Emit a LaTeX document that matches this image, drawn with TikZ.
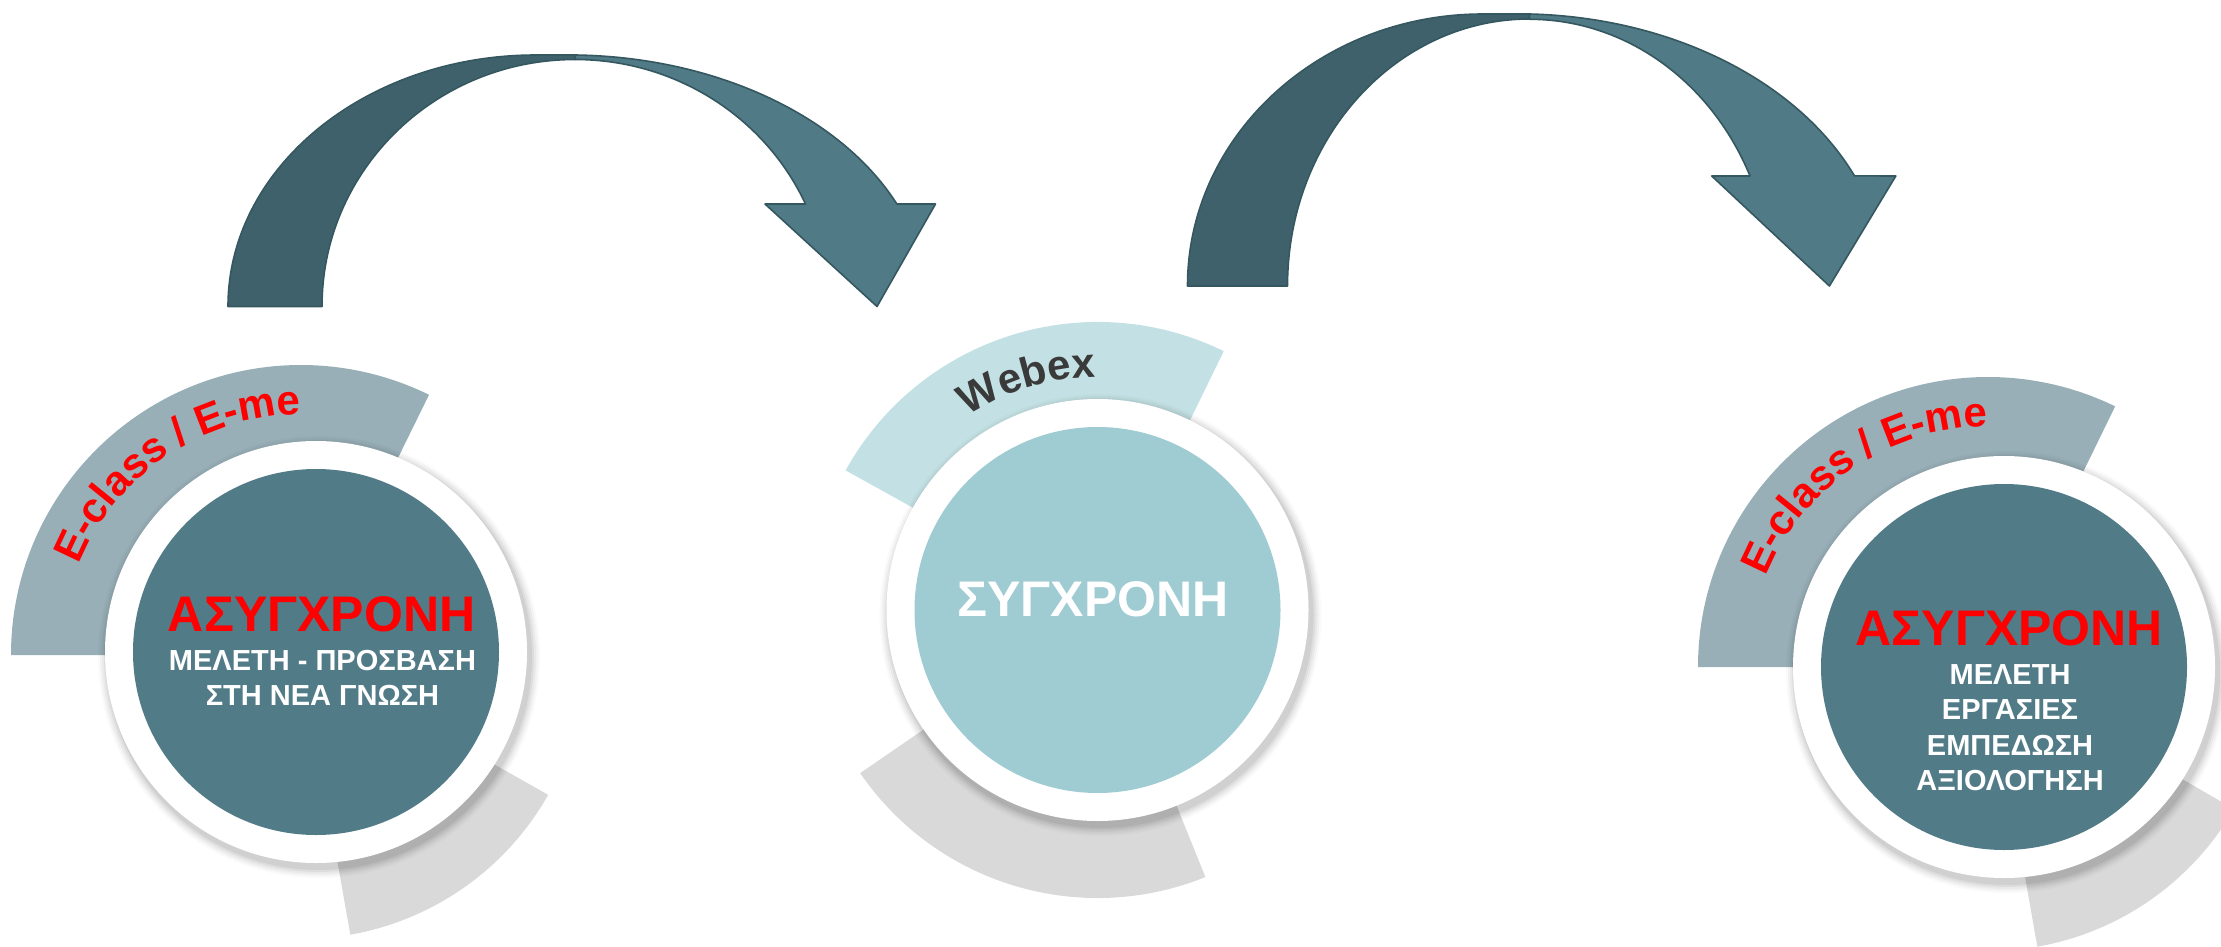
\documentclass[tikz,border=0pt]{standalone}
\usepackage{fontspec}
\setmainfont{Liberation Sans}
\usetikzlibrary{decorations.text}
\definecolor{arrdark}{HTML}{3E616B}
\definecolor{arrlight}{HTML}{517A87}
\definecolor{arrline}{HTML}{35575F}
\definecolor{tealc}{HTML}{527B88}
\definecolor{aquac}{HTML}{9FCBD2}
\definecolor{bandgrey}{HTML}{98AFB7}
\definecolor{bandaqua}{HTML}{C3E1E4}
\definecolor{bandlight}{HTML}{D9D9D9}
\definecolor{labelgrey}{HTML}{3A3A3A}
\newcommand{\bandsector}[6]{%
  \fill[#6] ([shift={(#4:#2)}]#1) arc[start angle=#4,end angle=#5,radius=#2]
    -- ([shift={(#5:#3)}]#1) arc[start angle=#5,end angle=#4,radius=#3] -- cycle;}
\newcommand{\whitedisc}[2]{%
  \foreach \rr/\op in {221/0.02,219/0.03,217/0.04,215/0.05,213/0.06}{%
    \fill[black,opacity=\op] ([shift={(3,5)}]#1,#2) circle[radius=\rr];}
  \fill[white] (#1,#2) circle[radius=211];}
\newcommand{\arcfont}{\bfseries\fontsize{21}{21}\selectfont}
\begin{document}
\begin{tikzpicture}[x=0.5pt,y=-0.5pt,
  arrowdk/.style={fill=arrdark,draw=arrline,line width=0.8pt,line join=round},
  arrowlt/.style={fill=arrlight,draw=arrline,line width=0.8pt,line join=round},
  bigdisc/.style={circle,minimum size=183pt,inner sep=0pt},
  redtitle/.style={text=red,font=\bfseries\fontsize{25}{30}\selectfont,anchor=base,inner sep=0pt},
  whitetitle/.style={text=white,font=\bfseries\fontsize{25}{30}\selectfont,anchor=base,inner sep=0pt},
  whiteline/.style={text=white,font=\bfseries\fontsize{14.5}{17}\selectfont,anchor=base,inner sep=0pt}]
\useasboundingbox (0,0) rectangle (2221,947);
\clip (0,0) rectangle (2221,947);

% bands
\bandsector{301,655}{290}{190}{-180}{-63.8}{bandgrey}
\bandsector{301,655}{284}{200}{29.5}{80}{bandlight}
\bandsector{1097.5,610}{288}{200}{-151}{-64}{bandaqua}
\bandsector{1097.5,610}{288}{200}{68}{145.5}{bandlight}
\bandsector{1988,667}{290}{190}{-180}{-64}{bandgrey}
\bandsector{1988,667}{284}{200}{30}{80}{bandlight}

% white rings with shadow
\whitedisc{316}{652}
\whitedisc{1097.5}{610}
\whitedisc{2004}{667}

% circles
\node[bigdisc,fill=tealc] (circA) at (316,652) {};
\node[bigdisc,fill=aquac] (circB) at (1097.5,610) {};
\node[bigdisc,fill=tealc] (circC) at (2004,667) {};

% circle texts
\node[redtitle] (tA) at (321.6,631) {ΑΣΥΓΧΡΟΝΗ};
\node[whiteline] (tA1) at (322.5,670) {ΜΕΛΕΤΗ - ΠΡΟΣΒΑΣΗ};
\node[whiteline] (tA2) at (322.5,705.7) {ΣΤΗ ΝΕΑ ΓΝΩΣΗ};
\node[whitetitle] (tB) at (1093,616) {ΣΥΓΧΡΟΝΗ};
\node[redtitle] (tC) at (2009.4,645) {ΑΣΥΓΧΡΟΝΗ};
\node[whiteline] (tC1) at (2010,684.3) {ΜΕΛΕΤΗ};
\node[whiteline] (tC2) at (2010,719.3) {ΕΡΓΑΣΙΕΣ};
\node[whiteline] (tC3) at (2010,755.8) {ΕΜΠΕΔΩΣΗ};
\node[whiteline] (tC4) at (2010,790.8) {ΑΞΙΟΛΟΓΗΣΗ};

% curved labels
\path[decorate,decoration={text along path,text={|\arcfont\color{red}|E-class / E-me},text align=center}]
  ([shift={(-180:240)}]301,655) arc[start angle=-180,end angle=-68,radius=240];
\path[decorate,decoration={text along path,text={|\arcfont\color{labelgrey}|Webex},text align=center}]
  ([shift={(-140:233)}]1097.5,610) arc[start angle=-140,end angle=-74,radius=233];
\path[decorate,decoration={text along path,text={|\arcfont\color{red}|E-class / E-me},text align=center}]
  ([shift={(-180:240)}]1988,667) arc[start angle=-180,end angle=-68,radius=240];

% arrow 1
\begin{scope}[shift={(228,306.5)}]
  \path[arrowdk] (0,0) -- (94,0) arc[start angle=180,end angle=270,x radius=253,y radius=247]
    -- (347,-251.5) -- (308,-251.5) arc[start angle=270,end angle=180,x radius=308,y radius=251.5] -- cycle;
  \path[arrowlt] (347,-247) -- (347,-251.5) arc[start angle=271.1,end angle=335.95,x radius=360,y radius=251.5]
    -- (707.5,-102.5) -- (649,0) -- (537,-102.5) -- (577.5,-102.5)
    arc[start angle=335.48,end angle=270,x radius=253,y radius=247] -- cycle;
\end{scope}

% arrow 2
\begin{scope}[shift={(1187.5,286)}]
  \path[arrowdk] (0,0) -- (100,0) arc[start angle=180,end angle=270,x radius=242,y radius=267]
    -- (342,-272) -- (295.5,-272) arc[start angle=270,end angle=180,x radius=295.5,y radius=272] -- cycle;
  \path[arrowlt] (342,-267) -- (342,-272) arc[start angle=271.87,end angle=336.15,x radius=368.5,y radius=272]
    -- (708.3,-110) -- (641.9,0) -- (524.2,-110) -- (562.5,-110)
    arc[start angle=335.6,end angle=270,x radius=242,y radius=267] -- cycle;
\end{scope}
\end{tikzpicture}
\end{document}
